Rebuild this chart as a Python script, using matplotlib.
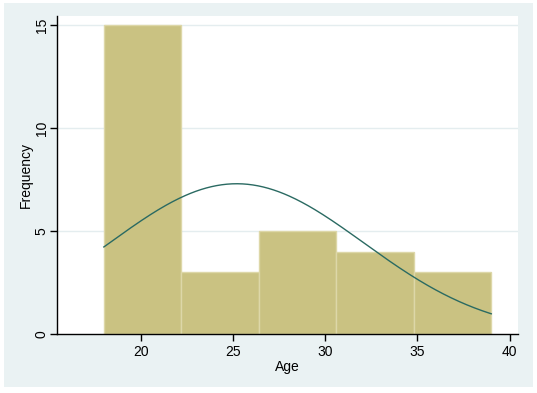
import numpy as np
import matplotlib
matplotlib.use("Agg")
import matplotlib.pyplot as plt
from matplotlib.patches import Rectangle

# Data
bin_edges = [18.0, 22.2, 26.4, 30.6, 34.8, 39.0]
counts = [15, 3, 5, 4, 3]
age_mean = 25.2
age_sd = 6.89
x_ticks = [20, 25, 30, 35, 40]
y_ticks = [0, 5, 10, 15]

plt.rcParams['font.family'] = ['Liberation Sans', 'DejaVu Sans']

W, H = 537, 393
fig = plt.figure(figsize=(W / 100, H / 100), dpi=100)
fig.patch.set_facecolor('white')
bg = Rectangle((4 / W, 6 / H), (533 - 4) / W, (387 - 3) / H,
               transform=fig.transFigure, facecolor='#EAF2F3',
               edgecolor='none', zorder=-10)
fig.add_artist(bg)

left, right, top, bottom = 57, 518, 16, 334
ax = fig.add_axes([left / W, (H - bottom) / H, (right - left) / W, (bottom - top) / H])
ax.set_zorder(1)
ax.set_facecolor('white')

widths = np.diff(bin_edges)
ax.bar(bin_edges[:-1], counts, width=widths, align='edge', color='#CAC282',
       edgecolor='#DDD7A8', linewidth=1.0, zorder=2)

N = sum(counts)
bw = widths.mean()
xs = np.linspace(bin_edges[0], bin_edges[-1], 300)
ys = N * bw * np.exp(-0.5 * ((xs - age_mean) / age_sd) ** 2) / (age_sd * np.sqrt(2 * np.pi))
ax.plot(xs, ys, color='#2A6A62', linewidth=1.0, zorder=3)

ax.set_xlim(15.46, 40.45)
ax.set_ylim(0, 15.44)
ax.set_xticks(x_ticks)
ax.set_yticks(y_ticks)
for yv in y_ticks[1:]:
    ax.axhline(yv, color='#E4EDEF', linewidth=1.0, zorder=1)

for s in ['top', 'right']:
    ax.spines[s].set_visible(False)
for s in ['left', 'bottom']:
    ax.spines[s].set_color('black')
    ax.spines[s].set_linewidth(1.0)
    ax.spines[s].set_zorder(4)

ax.tick_params(axis='both', direction='out', length=5, width=1, colors='black',
               labelsize=10)
ax.tick_params(axis='x', pad=3)
ax.tick_params(axis='y', pad=1)
for lbl in ax.get_yticklabels():
    lbl.set_rotation(90)
    lbl.set_va('center')

ax.set_xlabel('Age', fontsize=10, labelpad=1)
ax.set_ylabel('Frequency', fontsize=10, labelpad=1)

fig.savefig('out.png', dpi=100, facecolor=fig.get_facecolor())
